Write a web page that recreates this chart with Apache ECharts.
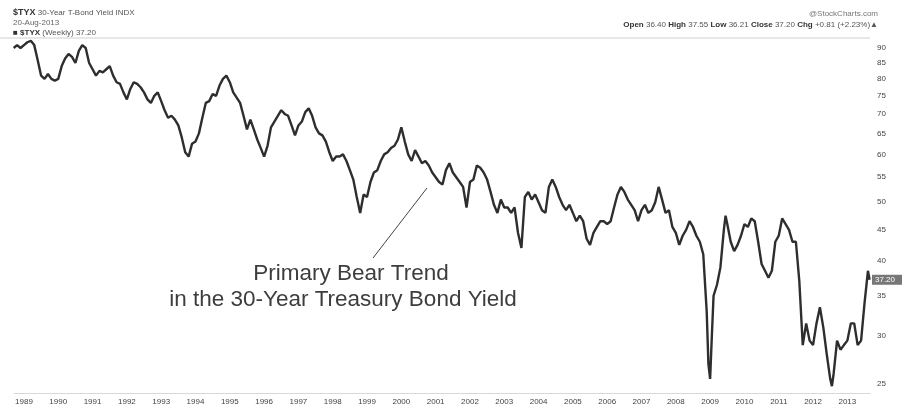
<!DOCTYPE html>
<html><head><meta charset="utf-8">
<script src="https://cdn.jsdelivr.net/npm/echarts@6/dist/echarts.min.js"></script>
<style>html,body{margin:0;padding:0;background:#fff}#c{width:902px;height:406px}</style>
</head><body><div id="c"></div>
<script>
// decimal years and $TYX weekly yield (x10)
const years = [
1988.7,1988.8,1988.9,1989.0,1989.1,1989.2,1989.3,1989.4,1989.5,1989.6,1989.7,1989.8,1989.9,
1990.0,1990.1,1990.2,1990.3,1990.4,1990.5,1990.6,1990.7,1990.8,1990.9,
1991.0,1991.1,1991.2,1991.3,1991.4,1991.5,1991.6,1991.7,1991.8,1991.9,
1992.0,1992.1,1992.2,1992.3,1992.4,1992.5,1992.6,1992.7,1992.8,1992.9,
1993.0,1993.1,1993.2,1993.3,1993.4,1993.5,1993.6,1993.7,1993.8,1993.9,
1994.0,1994.1,1994.2,1994.3,1994.4,1994.5,1994.6,1994.7,1994.8,1994.9,
1995.0,1995.1,1995.2,1995.3,1995.4,1995.5,1995.6,1995.7,1995.8,1995.9,
1996.0,1996.1,1996.2,1996.3,1996.4,1996.5,1996.6,1996.7,1996.8,1996.9,
1997.0,1997.1,1997.2,1997.3,1997.4,1997.5,1997.6,1997.7,1997.8,1997.9,
1998.0,1998.1,1998.2,1998.3,1998.4,1998.5,1998.6,1998.7,1998.8,1998.9,
1999.0,1999.1,1999.2,1999.3,1999.4,1999.5,1999.6,1999.7,1999.8,1999.9,
2000.0,2000.1,2000.2,2000.3,2000.4,2000.5,2000.6,2000.7,2000.8,2000.9,
2001.0,2001.1,2001.2,2001.3,2001.4,2001.5,2001.6,2001.7,2001.8,2001.9,
2002.0,2002.1,2002.2,2002.3,2002.4,2002.5,2002.6,2002.7,2002.8,2002.9,
2003.0,2003.1,2003.2,2003.3,2003.4,2003.5,2003.6,2003.7,2003.8,2003.9,
2004.0,2004.1,2004.2,2004.3,2004.4,2004.5,2004.6,2004.7,2004.8,2004.9,
2005.0,2005.1,2005.2,2005.3,2005.4,2005.5,2005.6,2005.7,2005.8,2005.9,
2006.0,2006.1,2006.2,2006.3,2006.4,2006.5,2006.6,2006.7,2006.8,2006.9,
2007.0,2007.1,2007.2,2007.3,2007.4,2007.5,2007.6,2007.7,2007.8,2007.9,
2008.0,2008.1,2008.2,2008.3,2008.4,2008.5,2008.6,2008.7,2008.8,2008.9,2008.95,
2009.0,2009.05,2009.1,2009.2,2009.3,2009.4,2009.45,2009.5,2009.6,2009.7,2009.8,2009.9,
2010.0,2010.1,2010.2,2010.3,2010.4,2010.5,2010.6,2010.7,2010.8,2010.9,
2011.0,2011.1,2011.2,2011.3,2011.4,2011.5,2011.6,2011.7,2011.8,2011.9,
2012.0,2012.1,2012.2,2012.3,2012.4,2012.5,2012.55,2012.6,2012.7,2012.8,2012.9,
2013.0,2013.1,2013.2,2013.3,2013.4,2013.5,2013.6,2013.65
];
const yields = [
90,91,90,91,92,92.5,91,86,81,80,81.5,80,79.5,
80,84,86.5,88,87,85,89,91,90,85,
83,81,82.5,82,83,84,81,79,78.5,76,
74,77,79,78.5,77.5,76,74,73,75,76,
73.5,71,69,69.5,68.5,67,64,60.5,59.5,62.5,
63,65,69,73,73.5,75.5,75,78,80,81,
79,76,74.5,73,69.5,66,68.5,66,63.5,61.5,
59.5,62,66.5,68,69.5,71,70,69.5,67,64.5,
67,68,70.5,71.5,69.5,66.5,65,64.5,63,60.5,
58.5,59.5,59.5,60,58.5,56.5,54.5,51,48,51.5,
51,54,56,56.5,58.5,60,60.5,61.5,62,63.5,
66.5,63,60,58.5,61,59.5,58,58.5,57.5,56,
55,54,53.5,56.5,58,56,55,54,53,49,
54,54.5,57.5,57,56,54.5,52,49.5,48,50.5,
49,49,48,49,44.5,42,51,52,50.5,51.5,
50,48.5,48,53,54.5,53,51,49.5,48.5,49.5,
48,46.5,47.5,46.5,43.5,42.5,44.5,45.5,46.5,46.5,
46,46.5,49,51.5,53,52,50.5,49.5,48.5,46.5,
48.5,49.5,48,48.5,50,53,50.5,48,48.5,45.5,
44.5,42.5,44,45,46.5,45.5,44,43,41,33,27,
25.5,30,35,36.5,39,45,47.5,46,43,41.5,42.5,44,
46,45.5,47,46.5,43,39.5,38.5,37.5,38.5,43,
44,47,46,45,43,43,37,29,31.5,29.5,
29,31.5,33.5,31,28,25.5,24.8,26,29.5,28.5,29,
29.5,31.5,31.5,29,29.5,34,38.5,37.2
];
const yTickValues = [25,30,35,40,45,50,55,60,65,70,75,80,85,90];
const xTickValues = [1989,1990,1991,1992,1993,1994,1995,1996,1997,1998,1999,2000,2001,2002,2003,2004,2005,2006,2007,2008,2009,2010,2011,2012,2013];
const lastClose = '37.20';

const seriesData = years.map((y, i) => [y, yields[i]]);
const chart = echarts.init(document.getElementById('c'), null, {renderer: 'canvas'});
const F = 'Liberation Sans, Arial, sans-serif';
chart.setOption({
  animation: false,
  backgroundColor: '#fff',
  grid: {left: 14, right: 32, top: 38, bottom: 13, show: false},
  xAxis: {
    type: 'value', min: 1988.71, max: 2013.66,
    axisLine: {show: true, lineStyle: {color: '#d8d8d8', width: 1}},
    axisTick: {show: false, customValues: xTickValues},
    axisLabel: {customValues: xTickValues, formatter: v => String(Math.round(v)), color: '#444', fontSize: 8, fontFamily: F, margin: 5},
    splitLine: {show: false}
  },
  yAxis: {
    type: 'log', position: 'right', min: 24.16, max: 93.5,
    axisLine: {show: false}, axisTick: {show: false, customValues: yTickValues},
    axisLabel: {customValues: yTickValues, formatter: v => String(Math.round(v)), color: '#444', fontSize: 8, fontFamily: F, margin: 7},
    splitLine: {show: false}
  },
  series: [{
    type: 'line', data: seriesData, showSymbol: false, symbol: 'none',
    lineStyle: {color: '#2e2e2e', width: 2.4}, z: 3
  }],
  graphic: [
    {type: 'line', shape: {x1: 0, y1: 38, x2: 870, y2: 38}, style: {stroke: '#d0d0d0', lineWidth: 1}, silent: true},
    {type: 'text', left: 13, top: 8, style: {text: '{b|$TYX} 30-Year T-Bond Yield INDX', rich: {b: {fontWeight: 'bold', fontSize: 9, fill: '#333', fontFamily: F}}, fontSize: 8, fill: '#555', fontFamily: F}},
    {type: 'text', left: 13, top: 19, style: {text: '20-Aug-2013', fontSize: 8, fill: '#666', fontFamily: F}},
    {type: 'text', left: 13, top: 29, style: {text: '{b|■ $TYX} (Weekly) 37.20', rich: {b: {fontWeight: 'bold', fontSize: 8, fill: '#333', fontFamily: F}}, fontSize: 8, fill: '#555', fontFamily: F}},
    {type: 'text', right: 24, top: 10, style: {text: '@StockCharts.com', fontSize: 8, fill: '#777', fontFamily: F}},
    {type: 'text', right: 24, top: 21, style: {text: '{b|Open} 36.40 {b|High} 37.55 {b|Low} 36.21 {b|Close} 37.20 {b|Chg} +0.81 (+2.23%)▲', rich: {b: {fontWeight: 'bold', fontSize: 8, fill: '#333', fontFamily: F}}, fontSize: 8, fill: '#555', fontFamily: F}},
    {type: 'line', shape: {x1: 373, y1: 258, x2: 427, y2: 188}, style: {stroke: '#444', lineWidth: 1}, silent: true},
    {type: 'text', x: 351, y: 274, style: {text: 'Primary Bear Trend', fontSize: 22.5, fill: '#3d3d3d', fontFamily: F, align: 'center', verticalAlign: 'middle'}},
    {type: 'text', x: 343, y: 300, style: {text: 'in the 30-Year Treasury Bond Yield', fontSize: 22.5, fill: '#3d3d3d', fontFamily: F, align: 'center', verticalAlign: 'middle'}}
  ]
});
const p = chart.convertToPixel({gridIndex: 0}, [years[years.length - 1], yields[yields.length - 1]]);
chart.setOption({graphic: [
  {id: 'tagbox', type: 'rect', shape: {x: 872, y: p[1] - 5, width: 30, height: 10}, style: {fill: '#777'}, z: 10},
  {id: 'tagtext', type: 'text', x: 875, y: p[1], style: {text: lastClose, fontSize: 8, fill: '#fff', fontFamily: F, verticalAlign: 'middle'}, z: 11}
]});
</script></body></html>
